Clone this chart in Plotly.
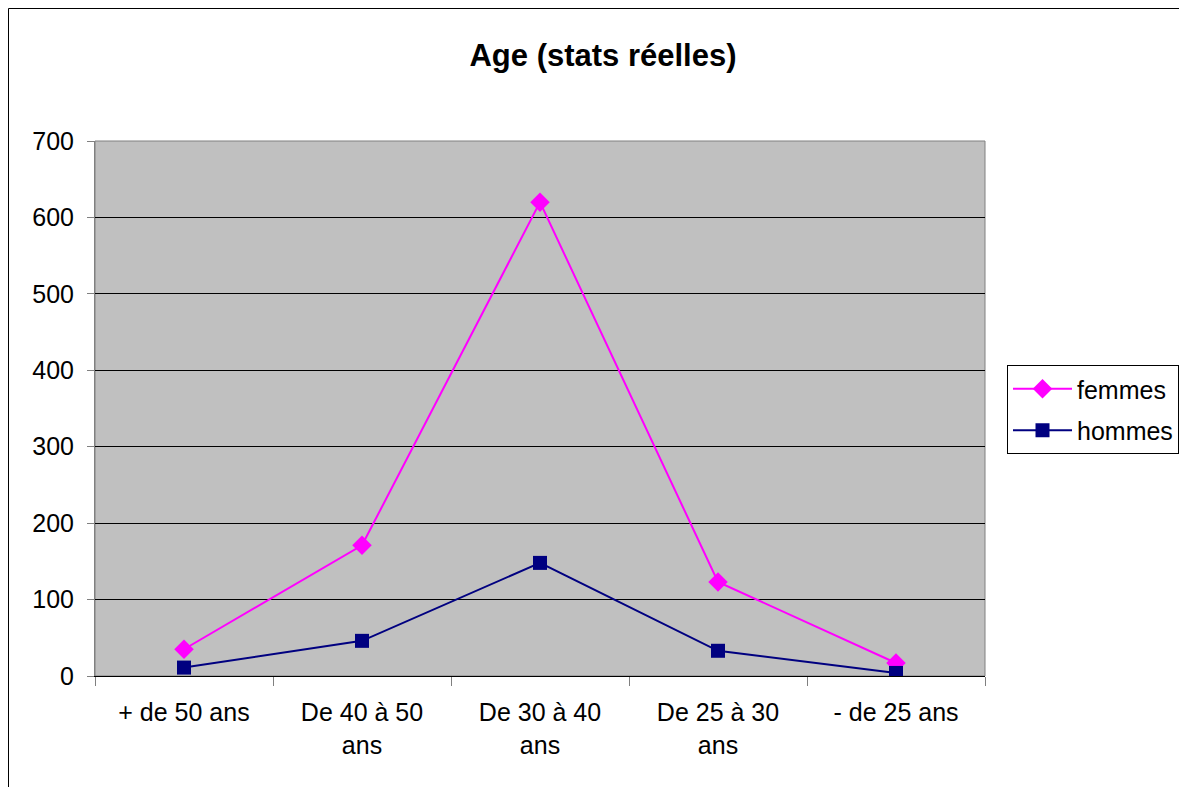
import plotly.graph_objects as go

categories = ["+ de 50 ans", "De 40 à 50<br>ans", "De 30 à 40<br>ans", "De 25 à 30<br>ans", "- de 25 ans"]
femmes = [35, 171, 620, 123, 17]
hommes = [11, 46, 148, 33, 4]
y_ticks = [0, 100, 200, 300, 400, 500, 600, 700]

# page body has an 8px margin, so figure coords = reference coords - 8
OFF = 8
W, H = 1187 - OFF, 787 - OFF
L, R, T, B = 95 - OFF, 985 - OFF, 141 - OFF, 676 - OFF

fig = go.Figure()
fig.add_trace(go.Scatter(
    x=categories, y=femmes, name="femmes", mode="lines+markers", legendgroup="f",
    line=dict(color="#FF00FF", width=2),
    marker=dict(symbol="diamond", size=15, color="#FF00FF"),
))
fig.add_trace(go.Scatter(
    x=categories, y=hommes, name="hommes", mode="lines+markers", legendgroup="h",
    line=dict(color="#000080", width=2),
    marker=dict(symbol="square", size=14, color="#000080"),
))

pw, ph = R - L, B - T
def px(x): return (x - OFF - L) / pw
def py(y): return (B - (y - OFF)) / ph
def cx(x): return (x - OFF) / W
def cy(y): return 1 - (y - OFF) / H

# outer chart border (right/bottom edges are off-screen)
fig.add_shape(type="rect", xref="paper", yref="paper",
              x0=px(8.5), x1=px(1300), y0=py(900), y1=py(8.5),
              line=dict(color="black", width=1), layer="below")
# plot area border (gray)
fig.add_shape(type="rect", xref="paper", yref="paper",
              x0=0, x1=1, y0=0, y1=1,
              line=dict(color="#808080", width=1), layer="below")

fig.update_layout(
    width=W, height=H,
    margin=dict(l=L, r=W - R, t=T, b=H - B, pad=0, autoexpand=False),
    paper_bgcolor="white", plot_bgcolor="#C0C0C0",
    font=dict(family="Arial, Liberation Sans, sans-serif", size=25, color="black"),
    title=dict(text="<b>Age (stats réelles)</b>", xref="container", yref="container",
               x=cx(603), xanchor="center", y=cy(55), yanchor="middle",
               font=dict(size=31)),
    showlegend=True,
    legend=dict(xref="container", yref="container", x=cx(1007), y=cy(365),
                xanchor="left", yanchor="top",
                bordercolor="black", borderwidth=1, bgcolor="white",
                font=dict(size=25), itemwidth=59, tracegroupgap=6,
                traceorder="grouped"),
    xaxis=dict(type="category", range=[-0.5, len(categories) - 0.5],
               showgrid=False, showline=True, linecolor="black",
               linewidth=1, ticks="outside", tickson="boundaries", ticklen=9,
               tickcolor="#808080", tickfont=dict(size=25), zeroline=False,
               ticklabelstandoff=14),
    yaxis=dict(range=[0, 700], tickvals=y_ticks, showgrid=True, gridcolor="black",
               gridwidth=1, showline=True, linecolor="#808080", linewidth=1,
               ticks="outside", ticklen=7, tickcolor="#808080",
               tickfont=dict(size=25), zeroline=False, ticklabelstandoff=8),
)

fig.write_html("out.html")
